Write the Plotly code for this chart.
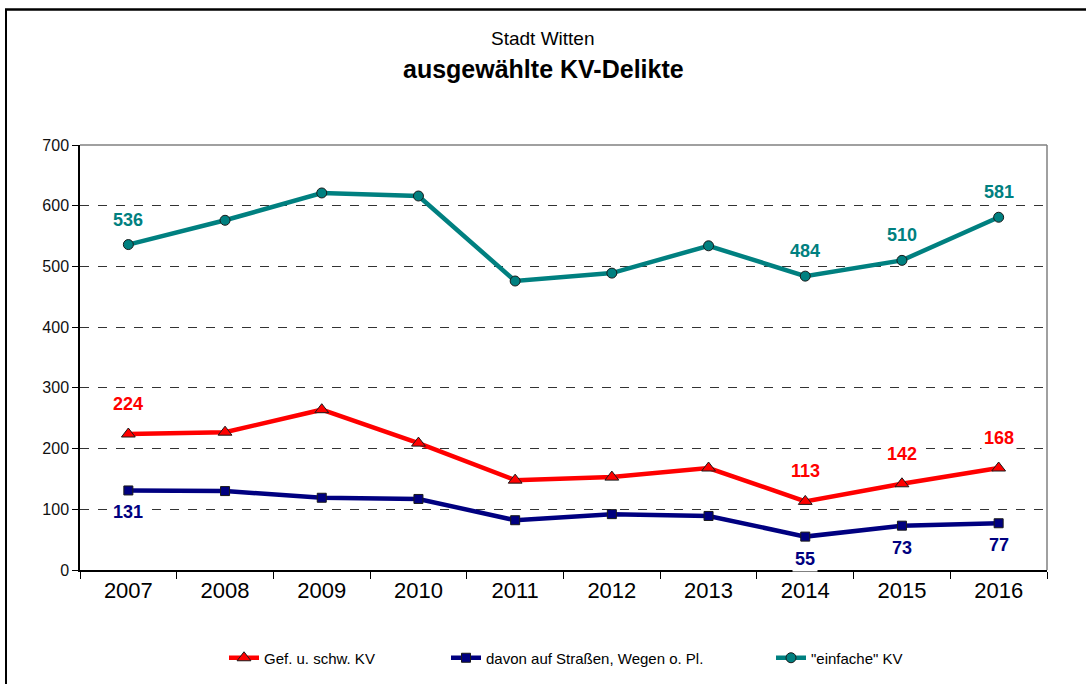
import plotly.graph_objects as go

years = ["2007", "2008", "2009", "2010", "2011", "2012", "2013", "2014", "2015", "2016"]
gef_schw = [224, 227, 264, 209, 148, 153, 168, 113, 142, 168]
strassen = [131, 130, 119, 117, 82, 92, 89, 55, 73, 77]
einfache = [536, 576, 621, 616, 476, 489, 534, 484, 510, 581]
labeled_years = ["2007", "2014", "2015", "2016"]
y_ticks = [0, 100, 200, 300, 400, 500, 600, 700]

FONT = "Liberation Sans, Arial, sans-serif"
W, H = 1086, 684
L, R, T, B = 80, 39, 145, 114

pw, ph = W - L - R, H - T - B
def px_x(p):
    return (p - L) / pw
def px_y(p):
    return (H - B - p) / ph

series = [
    dict(name="Gef. u. schw. KV", y=gef_schw, color="#FF0000", symbol="triangle-up", size=12,
         shift=-30, legend="legend", lx=224),
    dict(name="davon auf Straßen, Wegen o. Pl.", y=strassen, color="#000080", symbol="square", size=9,
         shift=22, legend="legend2", lx=446),
    dict(name="\"einfache\" KV", y=einfache, color="#008080", symbol="circle", size=10,
         shift=-25, legend="legend3", lx=771),
]

fig = go.Figure()
annotations = []
legends = {}
for s in series:
    fig.add_trace(go.Scatter(
        x=years, y=s["y"], name=s["name"], mode="lines+markers", legend=s["legend"],
        line=dict(color=s["color"], width=4.5),
        marker=dict(symbol=s["symbol"], size=s["size"], color=s["color"],
                    line=dict(color="#1a1a1a", width=1)),
    ))
    legends[s["legend"]] = dict(
        orientation="h", x=px_x(s["lx"]), xanchor="left", y=px_y(658), yanchor="middle",
        font=dict(family=FONT, size=15, color="#000"), itemwidth=30, bgcolor="rgba(0,0,0,0)")
    for i, (yr, v) in enumerate(zip(years, s["y"])):
        if yr in labeled_years:
            annotations.append(dict(
                x=i, y=v, xref="x", yref="y", text=str(v), showarrow=False,
                yshift=-s["shift"],
                font=dict(family=FONT, size=18, color=s["color"], weight="bold"),
                bgcolor="white", borderpad=2,
            ))

# titles
annotations.append(dict(text="Stadt Witten", xref="paper", yref="paper",
                        x=px_x(W / 2), y=px_y(38), xanchor="center", yanchor="middle",
                        showarrow=False, font=dict(family=FONT, size=19, color="#000")))
annotations.append(dict(text="<b>ausgewählte KV-Delikte</b>", xref="paper", yref="paper",
                        x=px_x(W / 2), y=px_y(69), xanchor="center", yanchor="middle",
                        showarrow=False, font=dict(family=FONT, size=25, color="#000")))

shapes = [
    dict(type="line", xref="paper", yref="paper", x0=px_x(5), x1=px_x(W), y0=px_y(9.5), y1=px_y(9.5),
         line=dict(color="#000", width=2.5)),
    dict(type="line", xref="paper", yref="paper", x0=px_x(6), x1=px_x(6), y0=px_y(9.5), y1=px_y(H),
         line=dict(color="#000", width=2)),
    dict(type="line", xref="paper", yref="paper", x0=0, x1=1, y0=1, y1=1,
         line=dict(color="#808080", width=1.5)),
    dict(type="line", xref="paper", yref="paper", x0=1, x1=1, y0=0, y1=1,
         line=dict(color="#808080", width=1.5)),
]

fig.update_layout(
    width=W, height=H,
    margin=dict(l=L, r=R, t=T, b=B, autoexpand=False),
    paper_bgcolor="white", plot_bgcolor="white",
    font=dict(family=FONT, color="#000"),
    showlegend=True,
    annotations=annotations,
    shapes=shapes,
    xaxis=dict(
        type="category", categoryorder="array", categoryarray=years,
        range=[-0.5, len(years) - 0.5], tickangle=0, automargin=False,
        showline=True, linecolor="#000", linewidth=1.5, mirror=False,
        ticks="outside", tickson="boundaries", ticklen=7, tickcolor="#000", tickwidth=1.2,
        tickfont=dict(family=FONT, size=22, color="#000"),
        showgrid=False, zeroline=False, fixedrange=True,
    ),
    yaxis=dict(
        range=[0, 700], tickvals=y_ticks, ticktext=[str(t) for t in y_ticks], automargin=False,
        showline=True, linecolor="#000", linewidth=1.5,
        ticks="outside", ticklen=6, tickcolor="#000", tickwidth=1.2,
        tickfont=dict(family=FONT, size=16, color="#111"),
        showgrid=True, gridcolor="#333", gridwidth=1, griddash="dash",
        zeroline=False, fixedrange=True,
    ),
    **legends,
)

fig.write_html("out.html", config={"displayModeBar": False},
               post_script="document.body.style.margin='0';document.body.style.overflow='hidden';")
